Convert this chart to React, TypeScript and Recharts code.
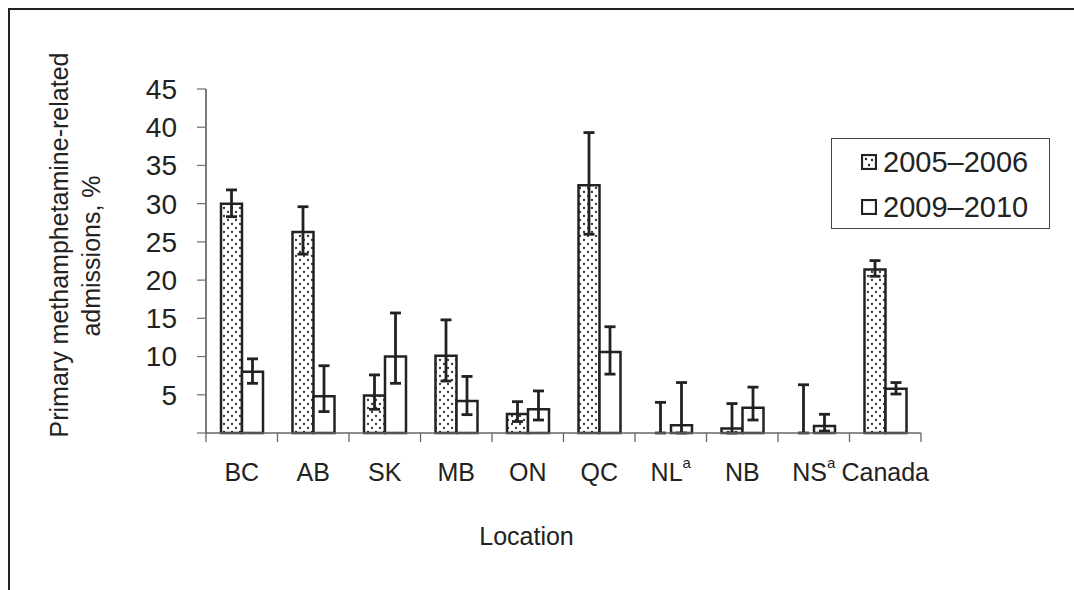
import { BarChart, Bar, XAxis, YAxis, ErrorBar, Legend, Rectangle } from 'recharts';

const categories = ['BC', 'AB', 'SK', 'MB', 'ON', 'QC', 'NL', 'NB', 'NS', 'Canada'];
const superscripts = ['', '', '', '', '', '', 'a', '', 'a', ''];

// 2005–2006, % of admissions (NL and NS read as ~0)
const rate2005 = [30.0, 26.3, 4.9, 10.1, 2.5, 32.4, 0.01, 0.6, 0.01, 21.4];
// [below, above] error whiskers
const err2005 = [
  [1.7, 1.8], [2.9, 3.3], [1.8, 2.7], [3.3, 4.7], [1.0, 1.6],
  [6.4, 6.9], [0.01, 4.0], [0.6, 3.25], [0.01, 6.3], [0.9, 1.15],
];

// 2009–2010
const rate2009 = [8.0, 4.8, 10.0, 4.2, 3.1, 10.6, 1.0, 3.3, 0.9, 5.8];
const err2009 = [
  [1.5, 1.7], [2.0, 4.0], [3.5, 5.7], [1.8, 3.2], [1.4, 2.4],
  [2.9, 3.3], [1.0, 5.6], [1.6, 2.7], [0.65, 1.55], [0.7, 0.8],
];

const yTicks = [0, 5, 10, 15, 20, 25, 30, 35, 40, 45];

const data = categories.map((name, i) => ({
  name,
  r2005: rate2005[i],
  e2005: err2005[i],
  r2009: rate2009[i],
  e2009: err2009[i],
}));

const FONT = '"Liberation Sans", Arial, sans-serif';
const INK = '#222';

// category label plus the boundary tick marks either side of the band
const CategoryTick = ({ x, y, width, visibleTicksCount, payload, index }: any) => {
  const band = width / visibleTicksCount;
  const sup = superscripts[index] || '';
  const left = x - band / 2;
  return (
    <g>
      <line x1={left} x2={left} y1={y} y2={y + 9} stroke="#666" strokeWidth={1.3} />
      {index === visibleTicksCount - 1 && (
        <line x1={left + band} x2={left + band} y1={y} y2={y + 9} stroke="#666" strokeWidth={1.3} />
      )}
      <text x={x} y={y + 48} textAnchor="middle" fontSize={25} fill={INK} fontFamily={FONT}>
        {payload.value}
        {sup && (
          <tspan fontSize={15} dy={-13}>
            {sup}
          </tspan>
        )}
      </text>
    </g>
  );
};

const YLabel = () => (
  <g fontFamily={FONT} fontSize={25} fill={INK}>
    <text x={58} y={235} transform="rotate(-90 58 235)" textAnchor="middle">
      Primary methamphetamine-related
    </text>
    <text x={90} y={246} transform="rotate(-90 90 246)" textAnchor="middle">
      admissions, %
    </text>
  </g>
);

const LocationLabel = ({ viewBox }: any) => (
  <text
    x={viewBox.x + viewBox.width / 2 - 37}
    y={viewBox.y + 112}
    textAnchor="middle"
    fontSize={25}
    fill={INK}
    fontFamily={FONT}
  >
    Location
  </text>
);

const BarShape = (props: any) => (props.height < 1 ? <g /> : <Rectangle {...props} />);

const LegendBox = () => (
  <div
    style={{
      width: 217,
      height: 89,
      border: '1px solid #444',
      background: '#fff',
      fontFamily: FONT,
      fontSize: 29,
      color: INK,
      boxSizing: 'content-box',
      position: 'relative',
    }}
  >
    {[
      { label: '2005–2006', dotted: true, top: 8 },
      { label: '2009–2010', dotted: false, top: 53 },
    ].map((item) => (
      <div
        key={item.label}
        style={{ position: 'absolute', left: 29, top: item.top, display: 'flex', alignItems: 'center', lineHeight: '30px' }}
      >
        <svg width={16} height={16} style={{ marginRight: 6 }}>
          <rect x={1} y={1} width={14} height={14} fill="#fff" stroke={INK} strokeWidth={2.2} />
          {item.dotted && (
            <>
              <circle cx={5} cy={5} r={1.2} fill={INK} />
              <circle cx={11} cy={6} r={1.2} fill={INK} />
              <circle cx={8} cy={11} r={1.2} fill={INK} />
            </>
          )}
        </svg>
        <span>{item.label}</span>
      </div>
    ))}
  </div>
);

const errorStyle = { stroke: INK, strokeWidth: 2.8 };

export default function App() {
  return (
    <div
      style={{
        position: 'fixed',
        left: 8,
        top: 8,
        width: 1080,
        height: 600,
        borderLeft: `2px solid ${INK}`,
        borderTop: `2px solid ${INK}`,
        overflow: 'hidden',
        background: '#fff',
      }}
    >
      <BarChart
        width={1048}
        height={564}
        data={data}
        margin={{ top: 79, right: 137, left: 0, bottom: 31 }}
        barGap={0}
        barSize={21}
      >
        <defs>
          <pattern id="dots2005" width={8} height={8} patternUnits="userSpaceOnUse">
            <rect width={8} height={8} fill="#fff" />
            <circle cx={2} cy={2} r={1.15} fill="#333" />
            <circle cx={6} cy={6} r={1.15} fill="#333" />
          </pattern>
        </defs>
        <XAxis
          dataKey="name"
          height={110}
          axisLine={{ stroke: '#666', strokeWidth: 1.3 }}
          tickLine={false}
          tickSize={0}
          tickMargin={0}
          interval={0}
          tick={<CategoryTick />}
          label={<LocationLabel />}
        />
        <YAxis
          width={196}
          domain={[0, 45]}
          ticks={yTicks}
          interval={0}
          tickSize={9}
          tickMargin={20}
          tickFormatter={(v: number) => (v === 0 ? '' : String(v))}
          tick={{ fontSize: 28, fill: INK, fontFamily: FONT }}
          axisLine={{ stroke: '#333', strokeWidth: 1.3 }}
          tickLine={{ stroke: '#777', strokeWidth: 1.3 }}
          label={<YLabel />}
        />
        <Legend
          layout="horizontal"
          align="center"
          verticalAlign="middle"
          content={<LegendBox />}
          wrapperStyle={{ left: 821, top: 128, width: 'auto', height: 'auto' }}
        />
        <Bar
          dataKey="r2005"
          name="2005–2006"
          fill="url(#dots2005)"
          stroke={INK}
          strokeWidth={2.5}
          shape={BarShape}
          isAnimationActive={false}
        >
          <ErrorBar dataKey="e2005" width={5.5} stroke={INK} strokeWidth={2.8} style={errorStyle} direction="y" />
        </Bar>
        <Bar
          dataKey="r2009"
          name="2009–2010"
          fill="#fff"
          stroke={INK}
          strokeWidth={2.5}
          shape={BarShape}
          isAnimationActive={false}
        >
          <ErrorBar dataKey="e2009" width={5.5} stroke={INK} strokeWidth={2.8} style={errorStyle} direction="y" />
        </Bar>
      </BarChart>
    </div>
  );
}
